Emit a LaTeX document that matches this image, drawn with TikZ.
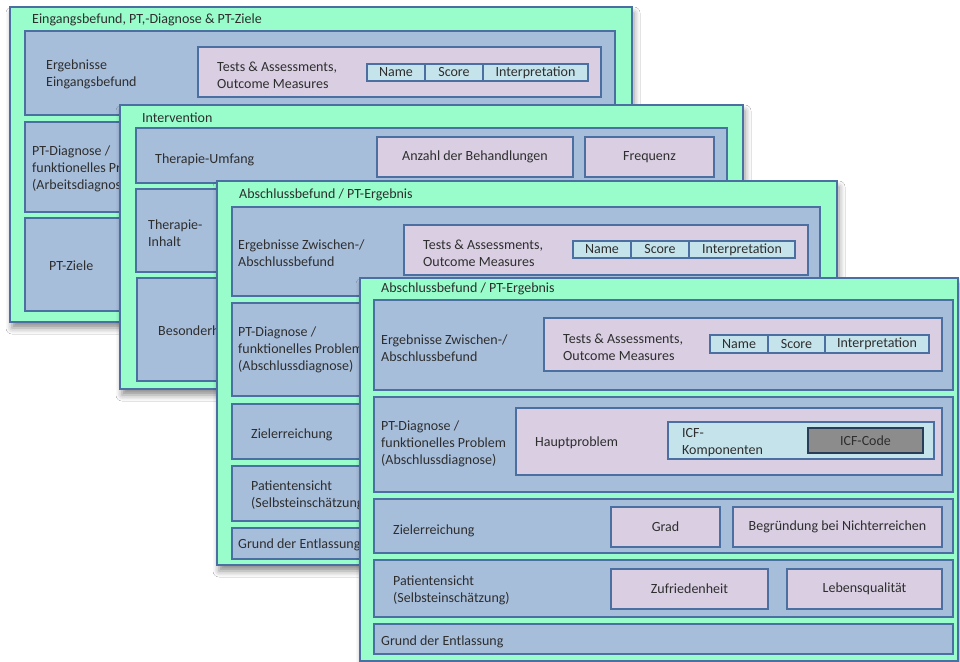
\documentclass[tikz,border=0pt]{standalone}
\usepackage{fontspec}
\setmainfont{Carlito}
\usetikzlibrary{shadows.blur}

\definecolor{panelgreen}{HTML}{98FDCB}
\definecolor{rowblue}{HTML}{A7BEDB}
\definecolor{edgeblue}{HTML}{4A6FA0}
\definecolor{lavender}{HTML}{D9CEE2}
\definecolor{cellcyan}{HTML}{C5E3EB}
\definecolor{codegray}{HTML}{8C8C8C}
\definecolor{inkgray}{HTML}{2E2E2E}

% box from top-left (x1,y1) to bottom-right (x2,y2), with optional centred text
\newcommand\boxnode[7]{%
  \node[#2, anchor=north west, inner sep=0pt, outer sep=0pt,
        minimum width={(#5-#3)*1pt}, minimum height={(#6-#4)*1pt},
        font=\fontsize{14}{17}\selectfont, text=inkgray, align=center]
        (#1) at (#3,#4) {#7};}

\tikzset{
  panel/.style={fill=panelgreen, draw=edgeblue, line width=1.2pt,
    blur shadow={shadow xshift=2pt, shadow yshift=-6pt,
                 shadow blur radius=6pt, shadow opacity=45}},
  row/.style={fill=rowblue, draw=edgeblue, line width=1.6pt},
  subbox/.style={fill=lavender, draw=edgeblue, line width=1.6pt},
  cell/.style={fill=cellcyan, draw=edgeblue, line width=1.4pt},
  codebox/.style={fill=codegray, draw=edgeblue!55!black, line width=1.4pt},
  txt/.style={font=\fontsize{14}{17}\selectfont, text=inkgray,
              inner sep=0pt, align=left, anchor=west, yshift=-1pt},
}

\begin{document}
\begin{tikzpicture}[x=1pt, y=-1pt]
\fill[white] (0,0) rectangle (960,661);
\useasboundingbox (0,0) rectangle (960,661);

% ---------- Eingangsbefund ----------
\boxnode{aP}{panel}{10}{7}{632}{322}{}
\node[txt] (aTitle) at (32,19) {Eingangsbefund, PT,-Diagnose \& PT-Ziele};
\boxnode{aR1}{row}{25}{31}{615}{115}{}
\node[txt] (aR1t) at (46,73) {Ergebnisse\\Eingangsbefund};
\boxnode{aTA}{subbox}{198}{47}{601}{97}{}
\node[txt] (aTAt) at (217,74) {Tests \& Assessments,\\Outcome Measures};
\boxnode{aName}{cell}{367}{64}{425}{81}{Name}
\boxnode{aScore}{cell}{425}{64}{483}{81}{Score}
\boxnode{aInt}{cell}{483}{64}{588}{81}{Interpretation}
\boxnode{aR2}{row}{25}{122}{615}{212}{}
\begin{scope}
  \clip (25,122) rectangle (120,212);
  \node[txt] (aR2t) at (32,168) {PT-Diagnose /\\funktionelles Problem\\(Arbeitsdiagnose)};
\end{scope}
\boxnode{aR3}{row}{25}{218}{615}{311}{}
\node[txt] (aR3t) at (49,265) {PT-Ziele};

% ---------- Intervention ----------
\boxnode{bP}{panel}{120}{105}{743}{389}{}
\node[txt] (bTitle) at (142,117) {Intervention};
\boxnode{bR1}{row}{136}{128}{727}{183}{}
\node[txt] (bR1t) at (155,159) {Therapie-Umfang};
\boxnode{bAnz}{subbox}{377}{137}{573}{177}{Anzahl der Behandlungen}
\boxnode{bFreq}{subbox}{585}{137}{714}{177}{Frequenz}
\boxnode{bR2}{row}{136}{189}{727}{272}{}
\node[txt] (bR2t) at (148,232) {Therapie-\\Inhalt};
\boxnode{bR3}{row}{137}{278}{727}{381}{}
\begin{scope}
  \clip (137,278) rectangle (217,381);
  \node[txt] (bR3t) at (158,330) {Besonderheiten};
\end{scope}

% ---------- Abschlussbefund (hinten) ----------
\boxnode{cP}{panel}{217}{181}{837}{565}{}
\node[txt] (cTitle) at (239,194) {Abschlussbefund / PT-Ergebnis};
\boxnode{cR1}{row}{232}{207}{820}{296}{}
\node[txt] (cR1t) at (238,252) {Ergebnisse Zwischen-/\\Abschlussbefund};
\boxnode{cTA}{subbox}{404}{225}{808}{275}{}
\node[txt] (cTAt) at (423,252) {Tests \& Assessments,\\Outcome Measures};
\boxnode{cName}{cell}{573}{241}{631}{258}{Name}
\boxnode{cScore}{cell}{631}{241}{689}{258}{Score}
\boxnode{cInt}{cell}{689}{241}{795}{258}{Interpretation}
\boxnode{cR2}{row}{232}{303}{820}{396}{}
\begin{scope}
  \clip (232,303) rectangle (360,396);
  \node[txt] (cR2t) at (238,349) {PT-Diagnose /\\funktionelles Problem\\(Abschlussdiagnose)};
\end{scope}
\boxnode{cR3}{row}{232}{404}{820}{459}{}
\node[txt] (cR3t) at (251,434) {Zielerreichung};
\boxnode{cR4}{row}{232}{466}{820}{521}{}
\begin{scope}
  \clip (232,466) rectangle (360,521);
  \node[txt] (cR4t) at (251,494) {Patientensicht\\(Selbsteinschätzung)};
\end{scope}
\boxnode{cR5}{row}{232}{528}{820}{559}{}
\begin{scope}
  \clip (232,528) rectangle (360,559);
  \node[txt] (cR5t) at (238,544) {Grund der Entlassung};
\end{scope}

% ---------- Abschlussbefund (vorne) ----------
\boxnode{dP}{panel}{360}{278}{958}{661}{}
\node[txt] (dTitle) at (381,288) {Abschlussbefund / PT-Ergebnis};
\boxnode{dR1}{row}{374}{300}{953}{390}{}
\node[txt] (dR1t) at (381,347) {Ergebnisse Zwischen-/\\Abschlussbefund};
\boxnode{dTA}{subbox}{544}{318}{942}{371}{}
\node[txt] (dTAt) at (563,346) {Tests \& Assessments,\\Outcome Measures};
\boxnode{dName}{cell}{710}{335}{768}{353}{Name}
\boxnode{dScore}{cell}{768}{335}{825}{353}{Score}
\boxnode{dInt}{cell}{825}{335}{929}{353}{Interpretation}

\boxnode{dR2}{row}{374}{397}{953}{492}{}
\node[txt] (dR2t) at (381,443) {PT-Diagnose /\\funktionelles Problem\\(Abschlussdiagnose)};
\boxnode{dHP}{subbox}{516}{408}{942}{475}{}
\node[txt] (dHPt) at (535,442) {Hauptproblem};
\boxnode{dICF}{cell}{668}{422}{934}{459}{}
\node[txt] (dICFt) at (682,442) {ICF-\\Komponenten};
\boxnode{dCode}{codebox}{808}{428}{923}{453}{ICF-Code}

\boxnode{dR3}{row}{374}{499}{953}{553}{}
\node[txt] (dR3t) at (393,530) {Zielerreichung};
\boxnode{dGrad}{subbox}{611}{507}{720}{547}{Grad}
\boxnode{dBeg}{subbox}{733}{507}{942}{547}{Begründung bei Nichterreichen}

\boxnode{dR4}{row}{374}{560}{953}{617}{}
\node[txt] (dR4t) at (393,589) {Patientensicht\\(Selbsteinschätzung)};
\boxnode{dZuf}{subbox}{611}{569}{768}{609}{Zufriedenheit}
\boxnode{dLeb}{subbox}{787}{569}{942}{609}{Lebensqualität}

\boxnode{dR5}{row}{374}{624}{953}{654}{}
\node[txt] (dR5t) at (381,641) {Grund der Entlassung};
\end{tikzpicture}
\end{document}
